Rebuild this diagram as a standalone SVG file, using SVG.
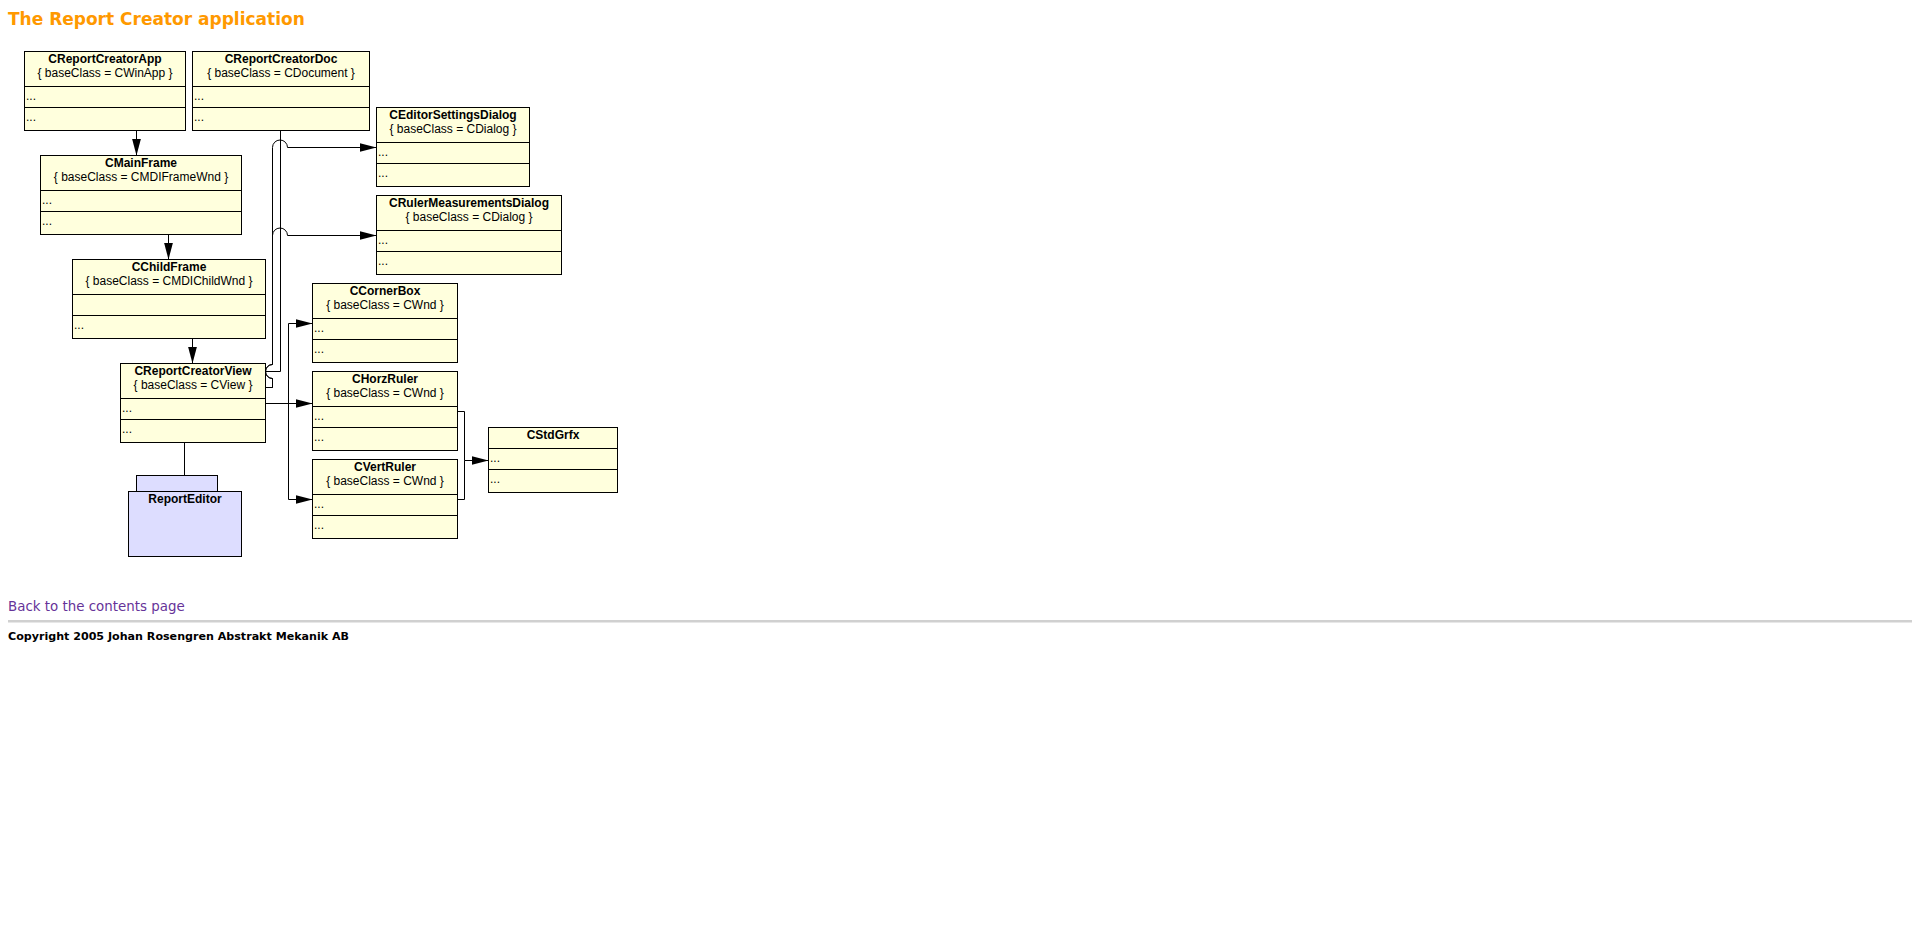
<svg xmlns="http://www.w3.org/2000/svg" width="1918" height="952" viewBox="0 0 1918 952">
<style>
  .box { fill: #ffffdd; stroke: #000; stroke-width: 1; }
  .pkg { fill: #ddddff; stroke: #000; stroke-width: 1; }
  .div { stroke: #000; stroke-width: 1; }
  .name { font-family: "Liberation Sans", Arial, sans-serif; font-size: 12px; font-weight: bold; text-anchor: middle; fill: #000; }
  .base { font-family: "Liberation Sans", Arial, sans-serif; font-size: 12px; text-anchor: middle; fill: #000; }
  .dots { font-family: "Liberation Sans", Arial, sans-serif; font-size: 12px; fill: #000; }
  .conn { fill: none; stroke: #000; stroke-width: 1; }
  .title { font-family: "DejaVu Sans", Verdana, sans-serif; font-size: 17px; font-weight: bold; fill: #ff9900; }
  .link { font-family: "DejaVu Sans", Verdana, sans-serif; font-size: 13.4px; fill: #663399; }
  .copy { font-family: "DejaVu Sans", Verdana, sans-serif; font-size: 11.1px; font-weight: bold; fill: #000; }
</style>
<defs>
  <marker id="arrow" markerUnits="userSpaceOnUse" markerWidth="17" markerHeight="10" refX="17" refY="5" orient="auto">
    <path d="M0,0.5 L17,5 L0,9.5 z" fill="#000"/>
  </marker>
</defs>
<rect width="1918" height="952" fill="#fff"/>

<text class="title" x="8" y="25">The Report Creator application</text>

<g id="connectors">
  <path class="conn" d="M136.5 130.5 L136.5 155.5" marker-end="url(#arrow)"/>
  <path class="conn" d="M168.5 234.5 L168.5 259.5" marker-end="url(#arrow)"/>
  <path class="conn" d="M192.5 338.5 L192.5 363.5" marker-end="url(#arrow)"/>
  <path class="conn" d="M184.5 442.5 L184.5 475.5"/>
  <path class="conn" d="M280.5 130.5 L280.5 371.5 L265.5 371.5"/>
  <path class="conn" d="M265.5 387.5 L272.5 387.5 L272.5 378.5 A7 7 0 0 1 272.5 364.5 L272.5 147.5 A7.5 7.5 0 0 1 287.5 147.5 L376.5 147.5" marker-end="url(#arrow)"/>
  <path class="conn" d="M265.5 387.5 L272.5 387.5 L272.5 378.5 A7 7 0 0 1 272.5 364.5 L272.5 235.5 A7.5 7.5 0 0 1 287.5 235.5 L376.5 235.5" marker-end="url(#arrow)"/>
  <path class="conn" d="M265.5 403.5 L312.5 403.5" marker-end="url(#arrow)"/>
  <path class="conn" d="M288.5 403.5 L288.5 323.5 L312.5 323.5" marker-end="url(#arrow)"/>
  <path class="conn" d="M288.5 403.5 L288.5 499.5 L312.5 499.5" marker-end="url(#arrow)"/>
  <path class="conn" d="M457.5 411.5 L464.5 411.5 L464.5 460.5 L488.5 460.5" marker-end="url(#arrow)"/>
  <path class="conn" d="M457.5 499.5 L464.5 499.5 L464.5 460.5"/>
</g>

<g id="CReportCreatorApp">
  <rect class="box" x="24.5" y="51.5" width="161" height="79"/>
  <line class="div" x1="24.5" y1="86.5" x2="185.5" y2="86.5"/>
  <line class="div" x1="24.5" y1="107.5" x2="185.5" y2="107.5"/>
  <text class="name" x="105" y="63">CReportCreatorApp</text>
  <text class="base" x="105" y="77">{ baseClass = CWinApp }</text>
  <text class="dots" x="26" y="100">...</text>
  <text class="dots" x="26" y="120.5">...</text>
</g>

<g id="CReportCreatorDoc">
  <rect class="box" x="192.5" y="51.5" width="177" height="79"/>
  <line class="div" x1="192.5" y1="86.5" x2="369.5" y2="86.5"/>
  <line class="div" x1="192.5" y1="107.5" x2="369.5" y2="107.5"/>
  <text class="name" x="281" y="63">CReportCreatorDoc</text>
  <text class="base" x="281" y="77">{ baseClass = CDocument }</text>
  <text class="dots" x="194" y="100">...</text>
  <text class="dots" x="194" y="120.5">...</text>
</g>

<g id="CMainFrame">
  <rect class="box" x="40.5" y="155.5" width="201" height="79"/>
  <line class="div" x1="40.5" y1="190.5" x2="241.5" y2="190.5"/>
  <line class="div" x1="40.5" y1="211.5" x2="241.5" y2="211.5"/>
  <text class="name" x="141" y="167">CMainFrame</text>
  <text class="base" x="141" y="181">{ baseClass = CMDIFrameWnd }</text>
  <text class="dots" x="42" y="204">...</text>
  <text class="dots" x="42" y="224.5">...</text>
</g>

<g id="CChildFrame">
  <rect class="box" x="72.5" y="259.5" width="193" height="79"/>
  <line class="div" x1="72.5" y1="294.5" x2="265.5" y2="294.5"/>
  <line class="div" x1="72.5" y1="315.5" x2="265.5" y2="315.5"/>
  <text class="name" x="169" y="271">CChildFrame</text>
  <text class="base" x="169" y="285">{ baseClass = CMDIChildWnd }</text>
  <text class="dots" x="74" y="328.5">...</text>
</g>

<g id="CReportCreatorView">
  <rect class="box" x="120.5" y="363.5" width="145" height="79"/>
  <line class="div" x1="120.5" y1="398.5" x2="265.5" y2="398.5"/>
  <line class="div" x1="120.5" y1="419.5" x2="265.5" y2="419.5"/>
  <text class="name" x="193" y="375">CReportCreatorView</text>
  <text class="base" x="193" y="389">{ baseClass = CView }</text>
  <text class="dots" x="122" y="412">...</text>
  <text class="dots" x="122" y="432.5">...</text>
</g>

<g id="ReportEditor">
  <rect class="pkg" x="136.5" y="475.5" width="81" height="16"/>
  <rect class="pkg" x="128.5" y="491.5" width="113" height="65"/>
  <text class="name" x="185" y="503">ReportEditor</text>
</g>

<g id="CEditorSettingsDialog">
  <rect class="box" x="376.5" y="107.5" width="153" height="79"/>
  <line class="div" x1="376.5" y1="142.5" x2="529.5" y2="142.5"/>
  <line class="div" x1="376.5" y1="163.5" x2="529.5" y2="163.5"/>
  <text class="name" x="453" y="119">CEditorSettingsDialog</text>
  <text class="base" x="453" y="133">{ baseClass = CDialog }</text>
  <text class="dots" x="378" y="156">...</text>
  <text class="dots" x="378" y="176.5">...</text>
</g>

<g id="CRulerMeasurementsDialog">
  <rect class="box" x="376.5" y="195.5" width="185" height="79"/>
  <line class="div" x1="376.5" y1="230.5" x2="561.5" y2="230.5"/>
  <line class="div" x1="376.5" y1="251.5" x2="561.5" y2="251.5"/>
  <text class="name" x="469" y="207">CRulerMeasurementsDialog</text>
  <text class="base" x="469" y="221">{ baseClass = CDialog }</text>
  <text class="dots" x="378" y="244">...</text>
  <text class="dots" x="378" y="264.5">...</text>
</g>

<g id="CCornerBox">
  <rect class="box" x="312.5" y="283.5" width="145" height="79"/>
  <line class="div" x1="312.5" y1="318.5" x2="457.5" y2="318.5"/>
  <line class="div" x1="312.5" y1="339.5" x2="457.5" y2="339.5"/>
  <text class="name" x="385" y="295">CCornerBox</text>
  <text class="base" x="385" y="309">{ baseClass = CWnd }</text>
  <text class="dots" x="314" y="332">...</text>
  <text class="dots" x="314" y="352.5">...</text>
</g>

<g id="CHorzRuler">
  <rect class="box" x="312.5" y="371.5" width="145" height="79"/>
  <line class="div" x1="312.5" y1="406.5" x2="457.5" y2="406.5"/>
  <line class="div" x1="312.5" y1="427.5" x2="457.5" y2="427.5"/>
  <text class="name" x="385" y="383">CHorzRuler</text>
  <text class="base" x="385" y="397">{ baseClass = CWnd }</text>
  <text class="dots" x="314" y="420">...</text>
  <text class="dots" x="314" y="440.5">...</text>
</g>

<g id="CVertRuler">
  <rect class="box" x="312.5" y="459.5" width="145" height="79"/>
  <line class="div" x1="312.5" y1="494.5" x2="457.5" y2="494.5"/>
  <line class="div" x1="312.5" y1="515.5" x2="457.5" y2="515.5"/>
  <text class="name" x="385" y="471">CVertRuler</text>
  <text class="base" x="385" y="485">{ baseClass = CWnd }</text>
  <text class="dots" x="314" y="508">...</text>
  <text class="dots" x="314" y="528.5">...</text>
</g>

<g id="CStdGrfx">
  <rect class="box" x="488.5" y="427.5" width="129" height="65"/>
  <line class="div" x1="488.5" y1="448.5" x2="617.5" y2="448.5"/>
  <line class="div" x1="488.5" y1="469.5" x2="617.5" y2="469.5"/>
  <text class="name" x="553" y="438.5">CStdGrfx</text>
  <text class="dots" x="490" y="462">...</text>
  <text class="dots" x="490" y="482.5">...</text>
</g>

<text class="link" x="8" y="611">Back to the contents page</text>
<line x1="8" y1="621" x2="1912" y2="621" stroke="#a0a0a0" stroke-width="1"/>
<line x1="8" y1="622" x2="1912" y2="622" stroke="#d0d0d0" stroke-width="1"/>
<text class="copy" x="8" y="640">Copyright 2005 Johan Rosengren Abstrakt Mekanik AB</text>
</svg>
